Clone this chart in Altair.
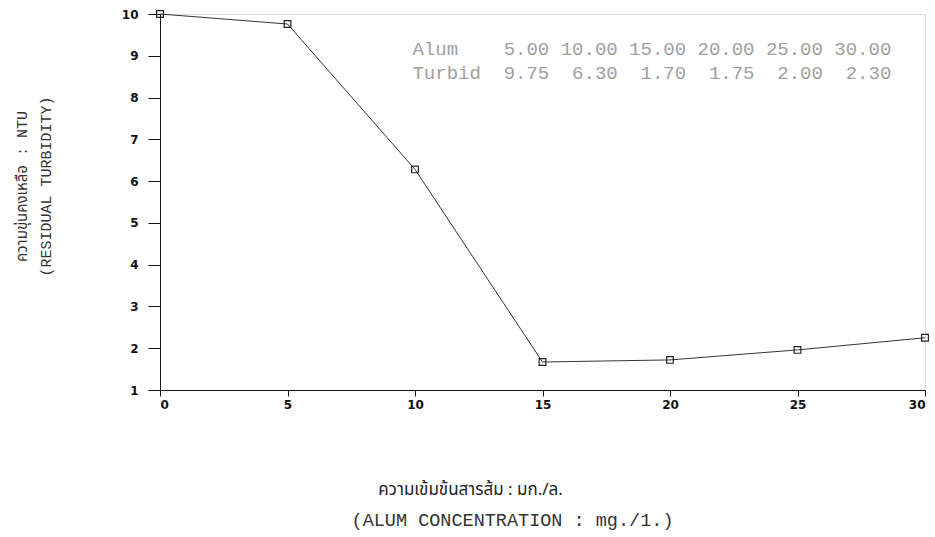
import altair as alt
import pandas as pd

# Data
alum = [0, 5, 10, 15, 20, 25, 30]
turbidity = [10.0, 9.76, 6.28, 1.67, 1.72, 1.96, 2.25]

# In-chart table
table_alum = [5.00, 10.00, 15.00, 20.00, 25.00, 30.00]
table_turbid = [9.75, 6.30, 1.70, 1.75, 2.00, 2.30]

x_ticks = [0, 5, 10, 15, 20, 25, 30]
y_ticks = [1, 2, 3, 4, 5, 6, 7, 8, 9, 10]

df = pd.DataFrame({"alum": alum, "turbidity": turbidity})

NB = "\u00a0"
def fmt_row(label, vals):
    s = label.ljust(6) + "".join(f"{v:6.2f}" for v in vals)
    return s.replace(" ", NB)

row1 = fmt_row("Alum", table_alum)
row2 = fmt_row("Turbid", table_turbid)
table_df = pd.DataFrame({"text": [row1, row2], "x": [9.9, 9.9], "y": [9.16, 8.59]})

thai_font = "Noto Sans Thai, Loma, Garuda, Norasi, Noto Sans, DejaVu Sans, sans-serif"
mono_thai = "Liberation Mono, Noto Sans Thai, Loma, Garuda, Noto Sans, monospace"

x_enc = alt.X(
    "alum:Q",
    scale=alt.Scale(domain=[0, 30], nice=False, zero=False),
    axis=alt.Axis(
        values=x_ticks,
        title="ความเข้มข้นสารส้ม : มก./ล.",
        titleFont=thai_font,
        titleFontSize=17,
        titleFontWeight="normal",
        titleColor="#222",
        titleX=310,
        titleY=99,
        titleAlign="center",
        titleBaseline="middle",
        grid=False,
        tickSize=6,
        labelPadding=3,
        labelFont="DejaVu Sans",
        labelFontWeight="bold",
        labelFontSize=12,
        labelColor="#111",
        domainColor="#111",
        tickColor="#111",
    ),
)
y_enc = alt.Y(
    "turbidity:Q",
    scale=alt.Scale(domain=[1, 10], nice=False, zero=False),
    axis=alt.Axis(
        values=y_ticks,
        title=["ความขุ่นคงเหลือ : NTU", "(RESIDUAL TURBIDITY)"],
        titleFont=mono_thai,
        titleFontSize=15,
        titleFontWeight="normal",
        titleColor="#333",
        titleX=-146,
        titleY=172,
        titleAngle=-90,
        titleAlign="center",
        titleBaseline="top",
        titleLineHeight=24,
        grid=False,
        tickSize=12,
        labelPadding=10,
        labelFont="DejaVu Sans",
        labelFontWeight="bold",
        labelFontSize=12,
        labelColor="#111",
        domainColor="#111",
        tickColor="#111",
    ),
)

line = alt.Chart(df).mark_line(color="#333", strokeWidth=1).encode(x=x_enc, y=y_enc)
points = alt.Chart(df).mark_point(
    shape="square", size=45, filled=False, color="#222", strokeWidth=1.2, opacity=1
).encode(x="alum:Q", y="turbidity:Q")

table = alt.Chart(table_df).mark_text(
    align="left", baseline="middle", font="Liberation Mono", fontSize=19, color="#a0a0a0"
).encode(x="x:Q", y="y:Q", text="text:N")

chart = (
    alt.layer(line, points, table)
    .properties(
        width=765,
        height=376,
        autosize=alt.AutoSizeParams(type="none"),
        padding={"left": 160, "top": 14, "right": 10, "bottom": 147},
        title=alt.TitleParams(
            "(ALUM CONCENTRATION : mg./1.)",
            orient="bottom",
            anchor="middle",
            dx=-30,
            offset=14,
            font="Liberation Mono",
            fontSize=18.5,
            fontWeight="normal",
            color="#333",
        ),
    )
    .configure_view(stroke="#111", strokeWidth=1)
    .configure(background="white")
)

chart.save("out.html", embed_options={"renderer": "svg", "actions": False})
